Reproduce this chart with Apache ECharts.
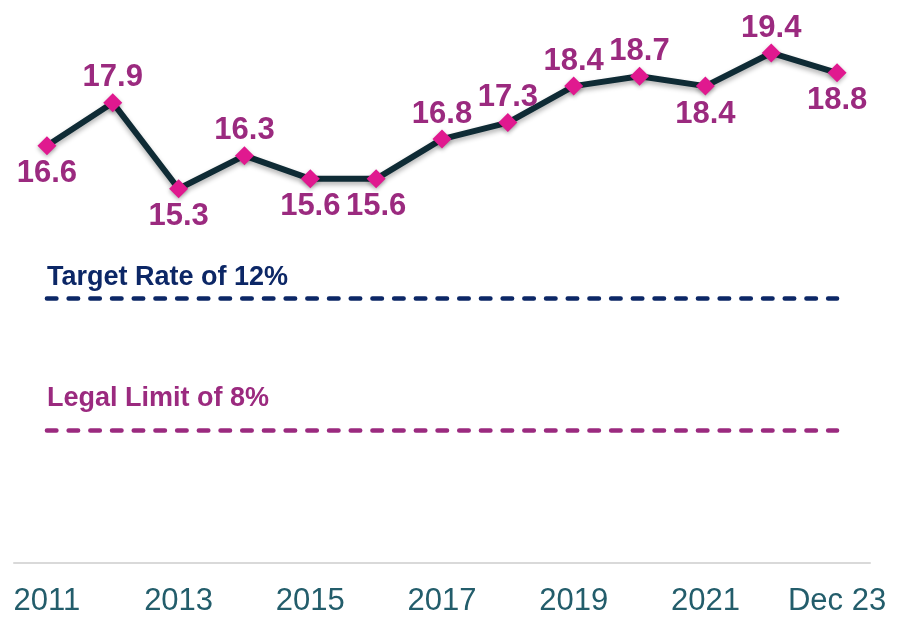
<!DOCTYPE html>
<html>
<head>
<meta charset="utf-8">
<script src="https://cdn.jsdelivr.net/npm/echarts@6/dist/echarts.min.js"></script>
<style>
  html, body { margin: 0; padding: 0; background: #fff; }
  #chart { width: 898px; height: 617px; }
</style>
</head>
<body>
<div id="chart"></div>
<script>
const years = ['2011', '2012', '2013', '2014', '2015', '2016', '2017', '2018', '2019', '2020', '2021', '2022', 'Dec 23'];
const rates = [16.6, 17.9, 15.3, 16.3, 15.6, 15.6, 16.8, 17.3, 18.4, 18.7, 18.4, 19.4, 18.8];
const targetRate = 12;
const legalLimit = 8;

// which value labels sit under their point
const labelsBelow = [0, 2, 4, 5, 10, 12];

const chart = echarts.init(document.getElementById('chart'));

const points = rates.map((v, i) => {
  const below = labelsBelow.indexOf(i) >= 0;
  return {
    value: v,
    label: { position: below ? 'bottom' : 'top', distance: below ? 3 : 0 }
  };
});

const refLine = (val, text, color, gap) => ({
  silent: true,
  symbol: 'none',
  lineStyle: { color: color, type: [9.5, 12.2], width: 4.5, cap: 'round' },
  label: {
    show: true,
    position: 'insideStartTop',
    formatter: text,
    color: color,
    fontSize: 27,
    fontWeight: 'bold',
    fontFamily: 'Liberation Sans, Arial, sans-serif',
    distance: [0, gap]
  },
  emphasis: { disabled: true },
  data: [[{ coord: [years[0], val] }, { coord: [years[years.length - 1], val] }]]
});

chart.setOption({
  animation: false,
  grid: { left: 14, right: 28, top: -2, bottom: 54 },
  xAxis: {
    type: 'category',
    data: years,
    boundaryGap: true,
    axisLine: { lineStyle: { color: '#d9d9d9', width: 2 } },
    axisTick: { show: false },
    axisLabel: {
      interval: 1,
      fontSize: 31,
      color: '#235d6b',
      margin: 23,
      fontFamily: 'Liberation Sans, Arial, sans-serif'
    }
  },
  yAxis: {
    type: 'value',
    min: 4,
    max: 21,
    show: false,
    splitLine: { show: false }
  },
  series: [
    {
      type: 'line',
      data: points,
      symbol: 'diamond',
      symbolSize: 19,
      z: 5,
      lineStyle: {
        color: '#0f2b35',
        width: 6,
        shadowColor: 'rgba(0,0,0,0.3)',
        shadowBlur: 5,
        shadowOffsetY: 3
      },
      itemStyle: {
        color: '#e0198f',
        shadowColor: 'rgba(0,0,0,0.3)',
        shadowBlur: 4,
        shadowOffsetY: 2
      },
      label: {
        show: true,
        fontSize: 31,
        fontWeight: 'bold',
        color: '#9b2a7f',
        fontFamily: 'Liberation Sans, Arial, sans-serif',
        formatter: p => p.value.toFixed(1)
      }
    },
    { type: 'line', data: [], markLine: refLine(targetRate, 'Target Rate of 12%', '#0c2766', 7) },
    { type: 'line', data: [], markLine: refLine(legalLimit, 'Legal Limit of 8%', '#9b2a7f', 18) }
  ]
});
</script>
</body>
</html>
